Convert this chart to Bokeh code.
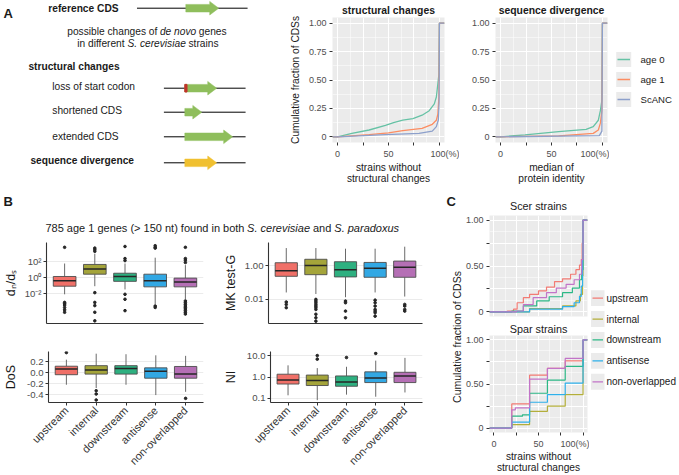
import math
from bokeh.plotting import figure
from bokeh.layouts import row, column
from bokeh.models import Range1d, FixedTicker
from bokeh.core.properties import value
from bokeh.embed import file_html
from bokeh.resources import INLINE

S = 0.998
def W(v): return int(round(v * S))
def FS(v): return "%.1fpx" % (v * S)
FONT = "Liberation Sans"
INK = "#1A1A1A"
TICK_INK = "#4D4D4D"

# ---------------- data ----------------
age_groups = ["age 0", "age 1", "ScANC"]
age_colors = ["#66C2A5", "#FC8D62", "#8DA0CB"]

# A: structural changes (x: % strains without structural changes, y: cumulative fraction)
sc_age0_x = [0, 14, 31, 47, 55, 64, 74, 83, 90, 95, 97, 98, 99.5, 100]
sc_age0_y = [0, 0.03, 0.06, 0.10, 0.125, 0.146, 0.16, 0.19, 0.23, 0.29, 0.35, 0.43, 0.55, 1.0]
sc_age1_x = [0, 31, 50, 64, 83, 93, 97, 98.5, 99.5, 100]
sc_age1_y = [0, 0.02, 0.035, 0.054, 0.075, 0.11, 0.146, 0.20, 0.35, 1.0]
sc_anc_x = [0, 47, 80, 93, 97, 99, 99.7, 100]
sc_anc_y = [0, 0.02, 0.03, 0.05, 0.09, 0.15, 0.30, 1.0]

# A: sequence divergence (x: median of protein identity, %)
sd_age0_x = [0, 24, 57, 84, 91, 96, 98, 99.5, 100]
sd_age0_y = [0, 0.017, 0.046, 0.066, 0.09, 0.146, 0.23, 0.32, 1.0]
sd_age1_x = [0, 57, 91, 96, 98, 99.5, 100]
sd_age1_y = [0, 0.009, 0.03, 0.06, 0.12, 0.23, 1.0]
sd_anc_x = [0, 97, 99.5, 100]
sd_anc_y = [0, 0.01, 0.05, 1.0]

# B: box plots
categories = ["upstream", "internal", "downstream", "antisense", "non-overlapped"]
box_colors = ["#F07068", "#A4A43A", "#2EB080", "#32A8E4", "#B56FB5"]
line_colors = ["#F27B74", "#B3AE3A", "#2DB886", "#2FB0EA", "#C274C8"]

dnds_q1 = [0.089, 2.8, 0.36, 0.074, 0.074]
dnds_med = [0.44, 12.3, 1.45, 0.44, 0.30]
dnds_q3 = [1.45, 46, 3.7, 2.8, 0.91]
dnds_lo = [0.0087, 0.089, 0.035, 0.0005, 0.0021]
dnds_hi = [60, 1000, 60, 320, 38]
dnds_out = [[6300, 0.00085, 0.0006, 0.0004, 0.0002, 0.0001, 0.00005],
            [5000, 3200, 2000, 0.014, 0.00085, 0.00034, 0.00005, 0.0000043],
            [8000, 250, 140, 0.0087, 0.0021, 0.00008],
            [10000, 6300, 5000, 0.0003, 0.0002],
            [6300, 250, 160, 80, 0.0013, 0.0008, 0.0005, 0.0003, 0.0002, 0.00013, 0.00008, 0.00005, 0.00003]]

mk_q1 = [0.24, 0.30, 0.22, 0.21, 0.21]
mk_med = [0.51, 1.07, 0.59, 0.72, 0.83]
mk_q3 = [1.55, 2.5, 1.78, 1.62, 1.95]
mk_lo = [0.026, 0.021, 0.0135, 0.026, 0.0148]
mk_hi = [11.7, 11.7, 10.7, 10.7, 14.1]
mk_out = [[0.007, 0.005, 0.0032],
          [0.01, 0.008, 0.0063, 0.005, 0.004, 0.0032, 0.0025, 0.0013, 0.0008, 0.0005],
          [0.008, 0.0063, 0.002, 0.0008],
          [0.009, 0.0063, 0.004, 0.0025, 0.002, 0.0016, 0.001],
          [0.005, 0.004, 0.0025, 0.002]]

dos_q1 = [-0.036, -0.025, -0.025, -0.10, -0.10]
dos_med = [0.068, 0.052, 0.078, 0.026, -0.025]
dos_q3 = [0.12, 0.13, 0.13, 0.09, 0.115]
dos_lo = [-0.22, -0.28, -0.22, -0.41, -0.35]
dos_hi = [0.24, 0.35, 0.34, 0.32, 0.31]
dos_out = [[0.37], [-0.33, -0.39, -0.50], [], [], [-0.47]]

ni_q1 = [0.47, 0.40, 0.37, 0.55, 0.55]
ni_med = [0.72, 0.68, 0.59, 0.89, 1.12]
ni_q3 = [1.35, 1.23, 1.12, 1.74, 1.66]
ni_lo = [0.14, 0.083, 0.15, 0.12, 0.19]
ni_hi = [3.5, 2.6, 3.0, 5.8, 7.8]
ni_out = [[], [10.0, 6.8], [8.1], [12.6], []]

# C: Scer strains (step ECDF)
scer_x = [[0, 15, 22, 26, 33, 40, 50, 59, 68, 77, 86, 92, 96, 98, 99, 100],
          [0, 40, 77, 92, 97, 99.5, 100],
          [0, 20, 33, 48, 62, 77, 88, 96, 98.5, 100],
          [0, 40, 77, 90, 96, 98, 99.5, 100],
          [0, 25, 33, 44, 59, 70, 81, 90, 96, 98.5, 100]]
scer_y = [[0, 0.01, 0.03, 0.10, 0.155, 0.19, 0.23, 0.27, 0.33, 0.36, 0.41, 0.46, 0.51, 0.57, 0.75, 1.0],
          [0, 0.036, 0.065, 0.12, 0.19, 0.39, 1.0],
          [0, 0.01, 0.065, 0.12, 0.165, 0.21, 0.26, 0.35, 0.46, 1.0],
          [0, 0.03, 0.058, 0.10, 0.17, 0.28, 0.57, 1.0],
          [0, 0.01, 0.08, 0.155, 0.21, 0.26, 0.30, 0.35, 0.41, 0.57, 1.0]]
# C: Spar strains
spar_x = [[0, 20, 40, 60, 80, 100],
          [0, 20, 40, 60, 80, 100],
          [0, 20, 32, 40, 60, 80, 100],
          [0, 20, 40, 60, 80, 100],
          [0, 20, 24, 40, 60, 80, 100]]
spar_y = [[0, 0.274, 0.60, 0.677, 0.763, 1.0],
          [0, 0.04, 0.19, 0.248, 0.38, 1.0],
          [0, 0.135, 0.15, 0.395, 0.545, 0.70, 1.0],
          [0, 0.068, 0.293, 0.38, 0.51, 1.0],
          [0, 0.207, 0.23, 0.556, 0.677, 0.79, 1.0]]

pct_ticks = [0, 25, 50, 75, 100]
pct_labels = ["0", "", "50", "", "\u00a0" * 6 + "100(%)"]
frac_ticks = [0, 0.25, 0.5, 0.75, 1.0]
frac_labels_a = ["0", "0.25", "0.50", "0.75", "1.00"]
frac_labels_c = ["0", "", "0.50", "", "1.00"]

# ---------------- helpers ----------------
AW = {' ': 278, '(': 333, ')': 333, '.': 278, '>': 584, '-': 333, 'S': 667,
      'a': 556, 'b': 556, 'c': 500, 'd': 556, 'e': 556, 'f': 278, 'g': 556, 'h': 556,
      'i': 222, 'j': 222, 'k': 500, 'l': 222, 'm': 833, 'n': 556, 'o': 556, 'p': 556,
      'q': 556, 'r': 333, 's': 500, 't': 278, 'u': 556, 'v': 500, 'w': 722, 'x': 500,
      'y': 500, 'z': 500}

def tw(s, size):
    return sum(AW.get(c, 556) for c in s) * size / 1000.0

def canvas(x0, x1, y0, y1, fx0=None, fx1=None):
    fx0 = x0 if fx0 is None else fx0
    fx1 = x1 if fx1 is None else fx1
    p = figure(width=W(x1) - W(x0), height=W(y1) - W(y0),
               x_range=Range1d(fx0, fx1), y_range=Range1d(y1, y0),
               x_axis_location=None, y_axis_location=None,
               output_backend="svg", toolbar_location=None,
               min_border_left=W(fx0) - W(x0), min_border_right=W(x1) - W(fx1),
               min_border_top=0, min_border_bottom=0)
    p.outline_line_color = None
    p.background_fill_color = "white"
    p.border_fill_color = "white"
    p.grid.visible = False
    return p

def txt(p, x, y, s, size, style="normal", align="left", color=INK, angle=0.0):
    p.text(x=[x], y=[y], text=[s], text_font=value(FONT), text_font_size=FS(size),
           text_font_style=style, text_align=align, text_baseline="middle",
           text_color=color, angle=angle)

def mixed(p, x, y, parts, size, color=INK):
    cur = x
    for s_, style in parts:
        lead = len(s_) - len(s_.lstrip(' '))
        core = s_.strip(' ')
        txt(p, cur + tw(' ' * lead, size), y, core, size, style=style, color=color)
        cur += tw(s_, size)

def style_axis(ax, tick_size, label_size):
    ax.major_label_text_font = FONT
    ax.major_label_text_font_size = FS(tick_size)
    ax.major_label_text_color = TICK_INK
    ax.axis_label_text_font = FONT
    ax.axis_label_text_font_size = FS(label_size)
    ax.axis_label_text_font_style = "normal"
    ax.axis_label_text_color = INK
    ax.minor_tick_line_color = None
    ax.major_tick_in = 0
    ax.major_tick_out = 3

# ---------------- panel A diagram ----------------
figA = canvas(0, 270, 0, 190)
txt(figA, 3, 13, "A", 13, style="bold")
GREEN, YELLOW, RED = "#8FBE5C", "#F0C030", "#C0332B"
diagram = [
    # text, style, text_x, text_y, line_y, line_x0, line_x1, arrow_x0, arrow_x1, colour
    ("reference CDS", "bold", 48, 8, 7.7, 137, 248, 186, 219, GREEN),
    ("loss of start codon", "normal", 52, 86, 87.7, 164, 246, 185, 217, GREEN),
    ("shortened CDS", "normal", 52, 110, 111.7, 164, 246, 185, 202, GREEN),
    ("extended CDS", "normal", 52, 136, 136.3, 164, 246, 185, 233, GREEN),
    ("sequence divergence", "bold", 30, 160, 162.3, 164, 246, 185, 217, YELLOW),
]
for t, st, tx, ty, ly, lx0, lx1, ax0, ax1, col in diagram:
    txt(figA, tx, ty, t, 10.2, style=st)
    figA.segment(x0=[lx0], y0=[ly], x1=[lx1], y1=[ly], line_color="black", line_width=1)
    h, H, L = 3.8, 6.8, 9.0
    figA.patch(x=[ax0, ax1 - L, ax1 - L, ax1, ax1 - L, ax1 - L, ax0],
               y=[ly - h, ly - h, ly - H, ly, ly + H, ly + h, ly + h],
               fill_color=col, line_color=col, line_width=0.5)
    if t == "loss of start codon":
        figA.quad(left=[ax0], right=[ax0 + 2.2], bottom=[ly - h], top=[ly + h],
                  fill_color=RED, line_color=RED)
mixed(figA, 67, 30.5, [("possible changes of ", "normal"), ("de novo", "italic"), (" genes", "normal")], 10.2)
mixed(figA, 77, 43, [("in different ", "normal"), ("S. cerevisiae", "italic"), (" strains", "normal")], 10.2)
txt(figA, 28, 66, "structural changes", 10.2, style="bold")

# ---------------- ECDF figures ----------------
def ecdf_fig(x0, x1, y0, y1, fx0, fx1, fy0, fy1, title=None, ylabel=None,
             ylabels=frac_labels_a, show_x=True, title_bold=True, title_size=10.4,
             title_standoff=2):
    p = figure(width=W(x1) - W(x0), height=W(y1) - W(y0),
               x_range=Range1d(-5, 105), y_range=Range1d(-0.05, 1.05),
               x_axis_location="below" if show_x else None,
               output_backend="svg", toolbar_location=None,
               min_border_left=W(fx0) - W(x0), min_border_right=W(x1) - W(fx1),
               min_border_top=W(fy0) - W(y0), min_border_bottom=W(y1) - W(fy1))
    p.background_fill_color = "#EBEBEB"
    p.border_fill_color = "white"
    p.outline_line_color = None
    if title:
        p.title.text = title
        p.title.align = "center"
        p.title.text_font = FONT
        p.title.text_font_size = FS(title_size)
        p.title.text_font_style = "bold" if title_bold else "normal"
        p.title.text_color = INK
        p.title.standoff = title_standoff
    for g, ticks, minor in ((p.xgrid[0], pct_ticks, [12.5, 37.5, 62.5, 87.5]),
                            (p.ygrid[0], frac_ticks, [0.125, 0.375, 0.625, 0.875])):
        g.ticker = FixedTicker(ticks=ticks, minor_ticks=minor)
        g.grid_line_color = "white"
        g.grid_line_width = 1.1
        g.minor_grid_line_color = "white"
        g.minor_grid_line_width = 0.5
    ya = p.yaxis[0]
    ya.ticker = FixedTicker(ticks=frac_ticks)
    ya.major_label_overrides = dict(zip(frac_ticks, ylabels))
    ya.axis_line_color = None
    ya.major_tick_line_color = "#333333"
    style_axis(ya, 9, 10.2)
    ya.major_label_standoff = 3
    if ylabel:
        ya.axis_label = ylabel
        ya.axis_label_standoff = 5
    if show_x:
        xa = p.xaxis[0]
        xa.ticker = FixedTicker(ticks=pct_ticks)
        xa.major_label_overrides = dict(zip(pct_ticks, pct_labels))
        xa.axis_line_color = None
        xa.major_tick_line_color = "#333333"
        style_axis(xa, 9, 10.2)
        xa.major_label_standoff = 3
    return p

def xtitle(x0, x1, y0, y1, fx0, fx1, lines, ys):
    p = canvas(x0, x1, y0, y1, fx0, fx1)
    for ln, yy in zip(lines, ys):
        txt(p, (fx0 + fx1) / 2.0, yy, ln, 10.2, align="center")
    return p

def ext(xs, ys, xr):
    return [xr.start] + list(xs) + [xr.end], [0] + list(ys) + [1.0]

figStruct = ecdf_fig(270, 460, 0, 161, 333, 445, 15, 143, title="structural changes",
                     ylabel="Cumulative fraction of CDSs", title_standoff=4)
for xs, ys, col in zip([sc_age0_x, sc_age1_x, sc_anc_x], [sc_age0_y, sc_age1_y, sc_anc_y], age_colors):
    ex, ey = ext(xs, ys, figStruct.x_range)
    figStruct.line(ex, ey, line_color=col, line_width=1.3)
xtStruct = xtitle(270, 460, 161, 190, 333, 445, ["strains without", "structural changes"], [166.7, 178.3])

figSeq = ecdf_fig(460, 610, 0, 161, 496, 608, 15, 143, title="sequence divergence", title_standoff=4)
for xs, ys, col in zip([sd_age0_x, sd_age1_x, sd_anc_x], [sd_age0_y, sd_age1_y, sd_anc_y], age_colors):
    ex, ey = ext(xs, ys, figSeq.x_range)
    figSeq.line(ex, ey, line_color=col, line_width=1.3)
xtSeq = xtitle(460, 610, 161, 190, 496, 608, ["median of", "protein identity"], [166.7, 178.3])

figLegA = canvas(610, 679, 0, 190)
for i, (name, col) in enumerate(zip(age_groups, age_colors)):
    yc = 59 + 20 * i
    figLegA.quad(left=[616.7], right=[631.7], bottom=[yc + 7.5], top=[yc - 7.5],
                 fill_color="#EBEBEB", line_color=None)
    figLegA.segment(x0=[618], y0=[yc], x1=[630.5], y1=[yc], line_color=col, line_width=1.3)
    txt(figLegA, 641, yc, name, 9.6)

# ---------------- panel B ----------------
figBhead = canvas(0, 445, 190, 235)
txt(figBhead, 3, 201, "B", 13, style="bold")
mixed(figBhead, 45, 227, [("785 age 1 genes (> 150 nt) found in both ", "normal"),
                          ("S. cerevisiae", "italic"), (" and ", "normal"),
                          ("S. paradoxus", "italic")], 11)

def box_fig(x0, x1, y0, y1, fx0, fx1, fy0, fy1, yr, log, ticks, tlabels, ylabel,
            show_cats, q1, med, q3, lo, hi, out, lab_standoff):
    p = figure(width=W(x1) - W(x0), height=W(y1) - W(y0),
               x_range=Range1d(0.4, 5.6), y_range=Range1d(*yr),
               y_axis_type="log" if log else "linear",
               output_backend="svg", toolbar_location=None,
               min_border_left=W(fx0) - W(x0), min_border_right=W(x1) - W(fx1),
               min_border_top=W(fy0) - W(y0), min_border_bottom=W(y1) - W(fy1))
    p.outline_line_color = None
    p.background_fill_color = "white"
    p.xgrid.visible = False
    p.ygrid[0].ticker = FixedTicker(ticks=ticks)
    p.ygrid[0].grid_line_color = "#EBEBEB"
    p.ygrid[0].grid_line_width = 1
    xs = [i + 1 for i in range(len(categories))]
    hw = 0.375
    p.segment(x0=xs, y0=q3, x1=xs, y1=hi, line_color="#595959", line_width=0.9)
    p.segment(x0=xs, y0=q1, x1=xs, y1=lo, line_color="#595959", line_width=0.9)
    p.quad(left=[x - hw for x in xs], right=[x + hw for x in xs], bottom=q1, top=q3,
           fill_color=box_colors, line_color="#4D4D4D", line_width=0.9)
    p.segment(x0=[x - hw for x in xs], y0=med, x1=[x + hw for x in xs], y1=med,
              line_color="#262626", line_width=1.5)
    ox, oy = [], []
    for x, vals in zip(xs, out):
        for v in vals:
            ox.append(x)
            oy.append(v)
    p.scatter(ox, oy, size=2.6, color="#262626")
    ya = p.yaxis[0]
    ya.ticker = FixedTicker(ticks=ticks)
    ya.major_label_overrides = dict(zip(ticks, tlabels))
    ya.axis_line_color = "#333333"
    ya.axis_line_width = 1.1
    ya.major_tick_line_color = "#333333"
    style_axis(ya, 9.6, 12.5)
    ya.major_label_standoff = 2
    ya.axis_label = ylabel
    ya.axis_label_standoff = lab_standoff
    xa = p.xaxis[0]
    xa.axis_line_color = "#333333"
    xa.axis_line_width = 1.1
    style_axis(xa, 11, 11)
    if show_cats:
        xa.ticker = FixedTicker(ticks=xs)
        xa.major_label_overrides = dict(zip(xs, categories))
        xa.major_label_orientation = math.pi / 4
        xa.major_tick_line_color = "#333333"
        xa.major_label_text_color = "#333333"
        xa.major_label_standoff = 3
    else:
        xa.ticker = FixedTicker(ticks=[])
        xa.major_tick_line_color = None
    return p

fDN = box_fig(0, 220, 235, 338, 40, 203, 242, 325, (10 ** -5.7, 10 ** 4.4), True,
              [0.01, 1, 100], ["10\u207b\u00b2", "10\u2070", "10\u00b2"], "d\u2099/d\u209b",
              False, dnds_q1, dnds_med, dnds_q3, dnds_lo, dnds_hi, dnds_out, 4)
fMK = box_fig(220, 445, 235, 338, 260, 423, 240, 324, (10 ** -3.44, 10 ** 1.4), True,
              [0.01, 1], ["0.01", "1.00"], "MK test-G",
              False, mk_q1, mk_med, mk_q3, mk_lo, mk_hi, mk_out, 4)
fDoS = box_fig(0, 220, 338, 475, 40, 203, 351, 412, (-0.546, 0.39), False,
               [-0.4, -0.2, 0.0, 0.2], ["-0.4", "-0.2", "0.0", "0.2"], "DoS",
               True, dos_q1, dos_med, dos_q3, dos_lo, dos_hi, dos_out, 6)
fNI = box_fig(220, 445, 338, 475, 260, 423, 352, 413, (10 ** -1.19, 10 ** 1.19), True,
              [0.1, 1, 10], ["0.1", "1.0", "10.0"], "NI",
              True, ni_q1, ni_med, ni_q3, ni_lo, ni_hi, ni_out, 6)

# ---------------- panel C ----------------
figClab = canvas(445, 463, 190, 475)
txt(figClab, 447, 201, "C", 13, style="bold")
txt(figClab, 457, 337, "Cumulative fraction of CDSs", 10.5, align="center", angle=math.pi / 2)

figCtop = ecdf_fig(463, 590, 190, 318, 489, 588, 215, 317, title="Scer strains",
                   ylabels=frac_labels_c, show_x=False, title_bold=False, title_size=10.8,
                   title_standoff=7)
for xs, ys, col in zip(scer_x, scer_y, line_colors):
    ex, ey = ext(xs, ys, figCtop.x_range)
    figCtop.step(ex, ey, mode="after", line_color=col, line_width=1.2)

figCbot = ecdf_fig(463, 590, 318, 452, 489, 588, 336, 434, title="Spar strains",
                   ylabels=frac_labels_c, title_bold=False, title_size=10.8, title_standoff=2)
for xs, ys, col in zip(spar_x, spar_y, line_colors):
    ex, ey = ext(xs, ys, figCbot.x_range)
    figCbot.step(ex, ey, mode="after", line_color=col, line_width=1.2)
xtC = xtitle(463, 590, 452, 475, 489, 588, ["strains without", "structural changes"], [456.5, 467.5])

figLegC = canvas(590, 679, 190, 475)
for i, (name, col) in enumerate(zip(categories, line_colors)):
    yc = 298 + 21 * i
    figLegC.quad(left=[591.5], right=[605], bottom=[yc + 8], top=[yc - 8],
                 fill_color="#EBEBEB", line_color=None)
    figLegC.segment(x0=[593], y0=[yc], x1=[603.5], y1=[yc], line_color=col, line_width=1.2)
    txt(figLegC, 607, yc, name, 10)

# ---------------- layout ----------------
top = row(figA, column(figStruct, xtStruct), column(figSeq, xtSeq), figLegA)
Bpart = column(figBhead, row(fDN, fMK), row(fDoS, fNI))
Cpart = row(figClab, column(figCtop, figCbot, xtC), figLegC)
root = column(top, row(Bpart, Cpart))

open("out.html", "w").write(file_html(root, INLINE))
